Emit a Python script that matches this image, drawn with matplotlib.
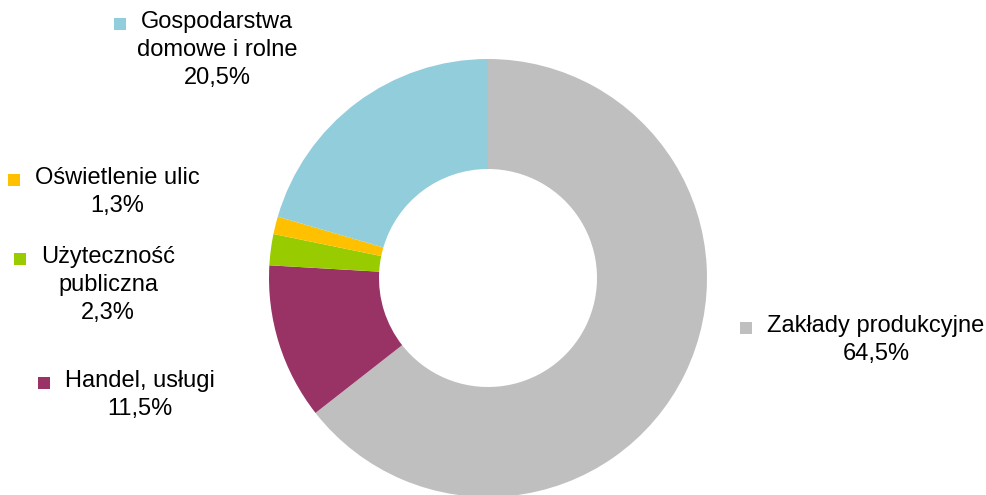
import matplotlib
matplotlib.use("Agg")
import matplotlib.pyplot as plt
from matplotlib.patches import Rectangle

plt.rcParams['font.family'] = ['Liberation Sans', 'DejaVu Sans']

# data
categories = ["Zakłady produkcyjne", "Handel, usługi", "Użyteczność publiczna",
              "Oświetlenie ulic", "Gospodarstwa domowe i rolne"]
shares = [64.5, 11.5, 2.3, 1.3, 20.5]
colors = ["#BFBFBF", "#993366", "#99CC00", "#FFC000", "#92CDDC"]
label_lines = [["Zakłady produkcyjne"], ["Handel, usługi"], ["Użyteczność", "publiczna"],
               ["Oświetlenie ulic"], ["Gospodarstwa", "domowe i rolne"]]

# label layout (pixel coords from top-left: centre x, first line y)
label_pos = [(876, 326), (140, 381), (108, 257), (117, 178), (217, 22)]
line_step = 28

W, H = 987, 495
fig = plt.figure(figsize=(W / 100, H / 100), dpi=100)
ax = fig.add_axes([0, 0, 1, 1])

cx, cy, r = 488, H - 278, 219
ax.pie(shares, colors=colors, startangle=90, counterclock=False,
       center=(cx, cy), radius=r, frame=True,
       wedgeprops=dict(width=110, linewidth=0))
ax.set_xlim(0, W)
ax.set_ylim(0, H)
ax.set_aspect('equal')
ax.axis('off')

fig.canvas.draw()
renderer = fig.canvas.get_renderer()
for lines, val, col, (lx, ly) in zip(label_lines, shares, colors, label_pos):
    texts = lines + [f"{val:.1f}%".replace('.', ',')]
    first = None
    for i, t in enumerate(texts):
        tx = ax.text(lx, H - (ly + i * line_step), t, ha='center', va='center',
                     fontsize=17, color='#000000')
        if i == 0:
            first = tx
    bb = first.get_window_extent(renderer=renderer)
    x0 = ax.transData.inverted().transform((bb.x0, bb.y0))[0]
    ax.add_patch(Rectangle((x0 - 15 - 12, H - ly - 2 - 6), 12, 12,
                           facecolor=col, edgecolor='none'))

fig.savefig("out.png", dpi=100)
